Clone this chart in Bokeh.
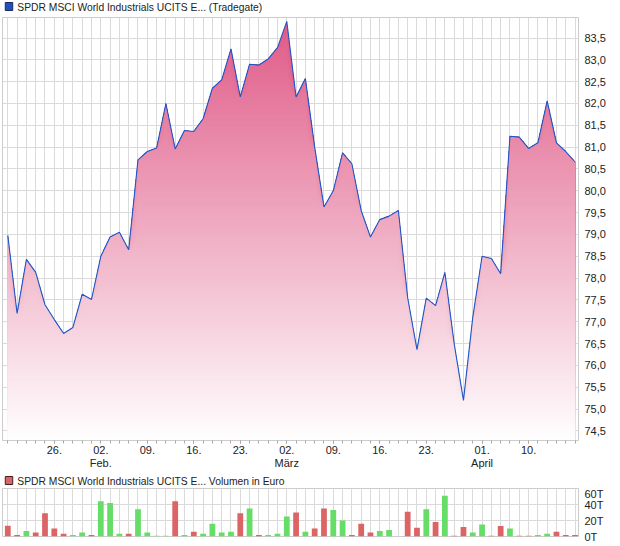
import numpy as np
from bokeh.plotting import figure
from bokeh.layouts import column
from bokeh.models import Range1d, FixedTicker, LinearAxis
from bokeh.core.properties import value
from bokeh.embed import file_html
from bokeh.resources import INLINE

# ---------------- data ----------------
days = list(range(62))
price = [78.98, 77.19, 78.43, 78.13, 77.39, 77.05, 76.73, 76.87, 77.63, 77.51,
         78.50, 78.94, 79.05, 78.65, 80.71, 80.90, 80.98, 82.00, 80.96, 81.38,
         81.36, 81.65, 82.35, 82.54, 83.25, 82.15, 82.90, 82.88, 83.02, 83.28,
         83.88, 82.15, 82.57, 81.00, 79.63, 80.00, 80.87, 80.62, 79.55, 78.94,
         79.34, 79.42, 79.55, 77.55, 76.36, 77.54, 77.37, 78.13, 76.50, 75.20,
         77.10, 78.50, 78.45, 78.10, 81.25, 81.23, 80.97, 81.10, 82.06, 81.10,
         80.90, 80.66]
volume_t = [13.5, 2, 7, 5, 29, 10, 3.5, 2, 5, 2,
            44, 42, 3.5, 3.5, 34, 5, 1, 1, 44, 2,
            6, 3.5, 16, 5, 6, 29, 35, 2, 2, 3.5,
            25, 30, 6, 10, 35, 33, 20, 2, 16, 5,
            7, 8, 0, 31, 11, 34, 18, 51, 1, 12,
            5, 15, 1, 13, 10, 1, 1, 2, 3.5, 6,
            2, 2]
volume_dir = list("rrgrrrrggrgggrggggrgrggggrgrgggrgrrggrrrgggrrgrgrrggrrgrrggrrr")
day_ticks = [5, 10, 15, 20, 25, 30, 35, 40, 45, 51, 56]
day_labels = ["26.", "02.", "09.", "16.", "23.", "02.", "09.", "16.", "23.", "01.", "10."]
month_ticks = [10, 30, 51]
month_labels = ["Feb.", "März", "April"]
price_ticks = [74.5 + 0.5 * k for k in range(19)]
vol_ticks = [0, 20, 40, 60]
vol_labels = ["0T", "20T", "40T", "60T"]
price_name = "SPDR MSCI World Industrials UCITS E... (Tradegate)"
vol_name = "SPDR MSCI World Industrials UCITS E... Volumen in Euro"

FONT = "Liberation Sans"
GRID = "#dadada"
OUTLINE = "#cccccc"
TXT = "#222222"
LINE = "#1c56c8"
RED = "#dd6464"
GREEN = "#66dd66"

x_lo, x_hi = -0.57, 61.37
y_lo, y_hi = 74.28, 83.97
W = 620
FW, FH1, FH2 = 576, 423, 48
LEFT, RIGHT = 2, W - 2 - 576


def header(text, sq_fill, sq_line, h, sq_top):
    f = figure(width=W, height=h, output_backend="svg", toolbar_location=None,
               x_range=Range1d(0, W), y_range=Range1d(h, 0),
               x_axis_location=None, y_axis_location=None,
               min_border=0)
    f.outline_line_color = None
    f.grid.visible = False
    f.background_fill_color = "white"
    f.border_fill_color = "white"
    f.quad(left=[3], right=[11], top=[sq_top], bottom=[sq_top + 8],
           fill_color=sq_fill, line_color=sq_line, line_width=1)
    f.text(x=[16], y=[sq_top + 4.5], text=[text], text_font=value(FONT),
           text_font_size="10.3px", text_color=TXT, text_baseline="middle",
           text_align="left")
    return f


h1 = header(price_name, "#1f4fc0", "#1a2a60", 16, 2)

# ---------------- price figure ----------------
p = figure(frame_width=FW, frame_height=FH1, output_backend="svg", toolbar_location=None,
           x_range=Range1d(x_lo, x_hi), y_range=Range1d(y_lo, y_hi),
           y_axis_location="right", min_border_left=LEFT, min_border_right=RIGHT,
           min_border_top=1, min_border_bottom=32)
p.outline_line_color = OUTLINE
p.background_fill_color = "white"
p.border_fill_color = "white"

p.xgrid.ticker = FixedTicker(ticks=days)
p.ygrid.ticker = FixedTicker(ticks=price_ticks)
for g in (p.xgrid[0], p.ygrid[0]):
    g.grid_line_color = GRID
    g.grid_line_width = 1

# gradient area built from stacked level bands
top = max(price)
c_top = np.array([224, 92, 136])
c_bot = np.array([255, 255, 255])
n_bands = 110
levels = np.linspace(top, y_lo, n_bands)
price_arr = np.array(price)
for L in levels:
    t = (top - L) / (top - y_lo)
    c = (c_top + (c_bot - c_top) * t).round().astype(int)
    col = "#%02x%02x%02x" % tuple(c)
    p.varea(x=days, y1=y_lo - 1, y2=np.minimum(price_arr, L),
            fill_color=col, fill_alpha=1.0)

p.line(days, price, line_color=LINE, line_width=1.1)

# x axis (days)
xa = p.xaxis[0]
xa.ticker = FixedTicker(ticks=day_ticks, minor_ticks=days)
xa.major_label_overrides = {t: s for t, s in zip(day_ticks, day_labels)}
xa.axis_line_color = OUTLINE
xa.major_tick_line_color = "#aaaaaa"
xa.minor_tick_line_color = "#aaaaaa"
xa.major_tick_out = 3
xa.major_tick_in = 0
xa.minor_tick_out = 3
xa.minor_tick_in = 0
xa.major_label_standoff = 2
xa.major_label_text_font = FONT
xa.major_label_text_font_size = "11px"
xa.major_label_text_color = TXT

ma = LinearAxis(ticker=FixedTicker(ticks=month_ticks, minor_ticks=[]),
                major_label_overrides={t: s for t, s in zip(month_ticks, month_labels)})
ma.axis_line_color = None
ma.major_tick_line_color = None
ma.minor_tick_line_color = None
ma.major_tick_out = 0
ma.major_label_standoff = 0
ma.major_label_text_font = FONT
ma.major_label_text_font_size = "11px"
ma.major_label_text_color = TXT
p.add_layout(ma, "below")

ya = p.yaxis[0]
ya.ticker = FixedTicker(ticks=price_ticks, minor_ticks=[])
ya.major_label_overrides = {t: ("%.1f" % t).replace(".", ",") for t in price_ticks}
ya.axis_line_color = None
ya.major_tick_line_color = None
ya.major_tick_out = 0
ya.major_label_standoff = 6
ya.major_label_text_font = FONT
ya.major_label_text_font_size = "11px"
ya.major_label_text_color = TXT

h2 = header(vol_name, RED, "#402020", 15, 4)

# ---------------- volume figure ----------------
v = figure(frame_width=FW, frame_height=FH2, output_backend="svg", toolbar_location=None,
           x_range=p.x_range, y_range=Range1d(0, 60),
           y_axis_location="right", x_axis_location=None,
           min_border_left=LEFT, min_border_right=RIGHT, min_border_top=1, min_border_bottom=7)
v.outline_line_color = OUTLINE
v.background_fill_color = "white"
v.border_fill_color = "white"
v.xgrid.ticker = FixedTicker(ticks=days)
v.ygrid.ticker = FixedTicker(ticks=vol_ticks)
for g in (v.xgrid[0], v.ygrid[0]):
    g.grid_line_color = GRID
    g.grid_line_width = 1

vcolors = [RED if d == "r" else GREEN for d in volume_dir]
v.vbar(x=days, top=volume_t, bottom=0, width=0.62, fill_color=vcolors, line_color=None)

va = v.yaxis[0]
va.ticker = FixedTicker(ticks=vol_ticks, minor_ticks=[])
va.major_label_overrides = {t: s for t, s in zip(vol_ticks, vol_labels)}
va.axis_line_color = None
va.major_tick_line_color = None
va.major_tick_out = 0
va.major_label_standoff = 6
va.major_label_text_font = FONT
va.major_label_text_font_size = "11px"
va.major_label_text_color = TXT

layout = column(h1, p, h2, v, spacing=0)
open("out.html", "w").write(file_html(layout, INLINE))
